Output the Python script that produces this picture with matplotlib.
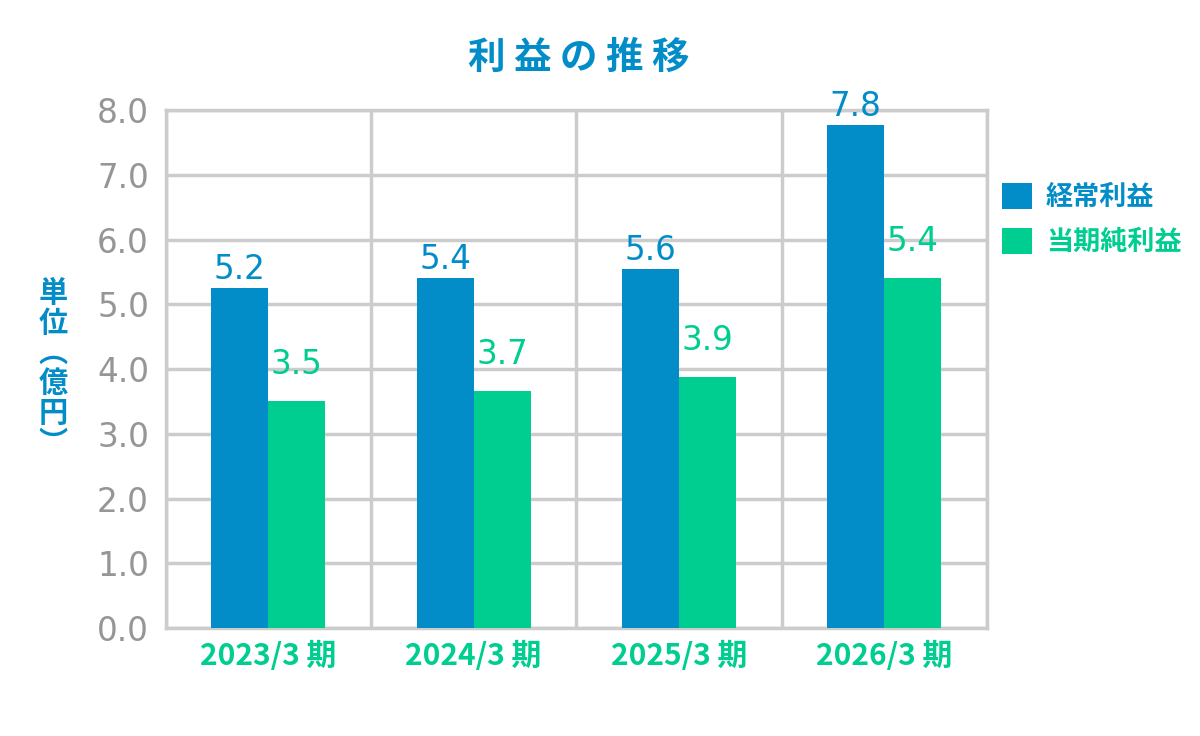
import numpy as np
import matplotlib.pyplot as plt

plt.rcParams['font.family'] = ['Noto Sans CJK JP', 'DejaVu Sans']

categories = ['2023/3 期', '2024/3 期', '2025/3 期', '2026/3 期']
keijo = [5.25, 5.40, 5.55, 7.77]
junri = [3.50, 3.66, 3.88, 5.40]
keijo_labels = ['5.2', '5.4', '5.6', '7.8']
junri_labels = ['3.5', '3.7', '3.9', '5.4']
yticks = [0, 1, 2, 3, 4, 5, 6, 7, 8]

BLUE = '#038dc8'
GREEN = '#00cd90'
GRID = '#cccccc'
GRAY = '#969696'
NUM = 'DejaVu Sans'

fig = plt.figure(figsize=(12, 7.36), dpi=100)
ax = fig.add_axes([0.138, 0.1467, 0.6845, 0.7038])

x = np.arange(len(categories))
w = 0.278
ax.bar(x - w / 2, keijo, w, color=BLUE, zorder=3, label='経常利益')
ax.bar(x + w / 2, junri, w, color=GREEN, zorder=3, label='当期純利益')

for xi, v, s in zip(x, keijo, keijo_labels):
    ax.text(xi - w / 2, v + 0.14, s, ha='center', va='baseline', fontsize=23.5,
            family=NUM, color=BLUE, zorder=4)
for xi, v, s in zip(x, junri, junri_labels):
    ax.text(xi + w / 2, v + 0.42, s, ha='center', va='baseline', fontsize=23.5,
            family=NUM, color=GREEN, zorder=4)

ax.set_xlim(-0.5, 3.5)
ax.set_ylim(0, 8)
ax.set_yticks(yticks)
ax.set_yticklabels([f'{t:.1f}' for t in yticks], fontsize=23.5, color=GRAY,
                   family=NUM)
ax.set_xticks(x)
ax.set_xticklabels(categories, fontsize=21.5, color=GREEN, fontweight='bold')
ax.set_xticks(np.arange(-0.5, 4, 1), minor=True)
ax.tick_params(axis='both', which='both', length=0)
ax.tick_params(axis='y', pad=12)
ax.tick_params(axis='x', pad=9)
ax.grid(True, axis='y', which='major', color=GRID, linewidth=2.5, zorder=0)
ax.grid(True, axis='x', which='minor', color=GRID, linewidth=2.5, zorder=0)
ax.grid(False, axis='x', which='major')
for sp in ax.spines.values():
    sp.set_color(GRID)
    sp.set_linewidth(2.5)

fig.text(0.482, 0.922, ' '.join('利益の推移'), ha='center', va='center',
         fontsize=27, fontweight='bold', color=BLUE)

ylabel_chars = ['単', '位', '︵', '億', '円', '︶']
fig.text(0.044, 0.5, '\n'.join(ylabel_chars), ha='center', va='center',
         fontsize=21, fontweight='bold', color=BLUE, linespacing=1.0)

leg = fig.legend(loc='upper left', bbox_to_anchor=(0.815, 0.785), frameon=False,
                 fontsize=19.5, handlelength=1.1, handleheight=1.1,
                 handletextpad=0.5, labelspacing=0.62)
for t, c in zip(leg.get_texts(), [BLUE, GREEN]):
    t.set_color(c)
    t.set_fontweight('bold')

fig.savefig('out.png', dpi=100)
